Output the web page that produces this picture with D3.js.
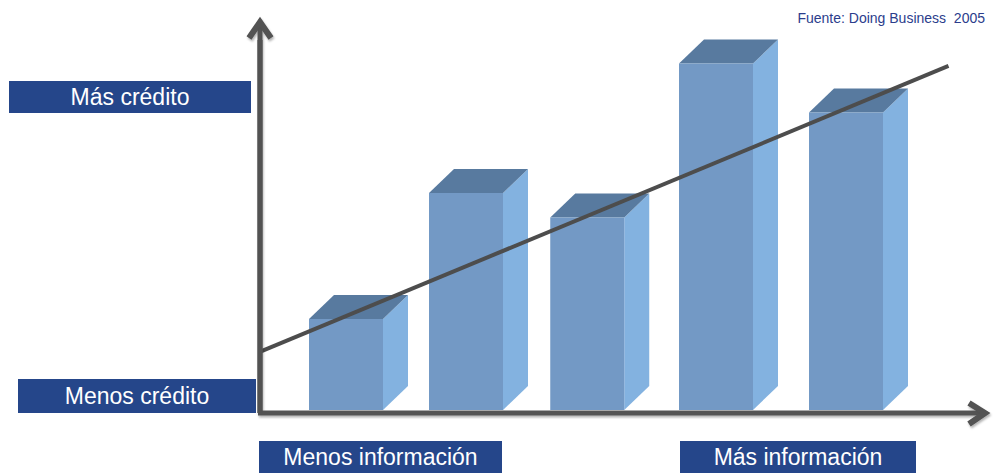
<!DOCTYPE html>
<html>
<head>
<meta charset="utf-8">
<script src="https://cdn.jsdelivr.net/npm/d3@7"></script>
<style>
  html, body { margin: 0; padding: 0; background: #ffffff; }
  svg { display: block; }
</style>
</head>
<body>
<svg id="chart" width="998" height="473"></svg>
<script>
// ---- data ----
const categories = ["A", "B", "C", "D", "E"];
const infoLevel = [0, 0.96, 1.93, 2.96, 4.0];
const creditValues = [26, 62, 55, 99, 85];
const trendX = [-0.69, 4.82];
const trendY = [16.6, 98.3];
const yLabels = ["Más crédito", "Menos crédito"];
const xLabels = ["Menos información", "Más información"];
const sourceText = "Fuente: Doing Business  2005";

// ---- layout ----
const svg = d3.select("#chart");
const baseY = 410;
const xi = d3.scaleLinear().domain([0, 4]).range([346, 846]);
const y = d3.scaleLinear().domain([0, 100]).range([baseY, 60]);
const barW = 74, dx = 25, dy = -24;

const cFront = "#7399c5", cSide = "#83b2e0", cTop = "#587a9f";
const axisColor = "#525252";
const boxColor = "#25468a";

const defs = svg.append("defs");
const f = defs.append("filter").attr("id", "sh").attr("x", "-5%").attr("y", "-5%").attr("width", "110%").attr("height", "120%");
f.append("feDropShadow").attr("dx", 1).attr("dy", 2).attr("stdDeviation", 1.2).attr("flood-color", "#000").attr("flood-opacity", 0.3);

// bars
const bars = svg.append("g");
categories.forEach((c, i) => {
  const cx = xi(infoLevel[i]);
  const x0 = cx - barW / 2, x1 = cx + barW / 2;
  const yt = y(creditValues[i]), yb = y(0);
  const g = bars.append("g");
  g.append("path")
    .attr("d", `M${x1},${yb} L${x1},${yt} L${x1 + dx},${yt + dy} L${x1 + dx},${yb + dy} Z`)
    .attr("fill", cSide);
  g.append("path")
    .attr("d", `M${x0},${yt} L${x0 + dx},${yt + dy} L${x1 + dx},${yt + dy} L${x1},${yt} Z`)
    .attr("fill", cTop);
  g.append("rect")
    .attr("x", x0).attr("y", yt).attr("width", barW).attr("height", yb - yt)
    .attr("fill", cFront);
});

// trend line
svg.append("line")
  .attr("x1", xi(trendX[0])).attr("y1", y(trendY[0]))
  .attr("x2", xi(trendX[1])).attr("y2", y(trendY[1]))
  .attr("stroke", "#4d4d4d").attr("stroke-width", 4);

// axes
const axes = svg.append("g").attr("filter", "url(#sh)")
  .attr("stroke", axisColor).attr("stroke-width", 5).attr("fill", "none");
axes.append("path").attr("d", "M260,413 L260,24");
axes.append("path").attr("d", "M258,413 L984,413");
axes.append("polyline").attr("points", "249,38 260,22 271,38")
  .attr("stroke-width", 6).attr("stroke-linejoin", "miter");
axes.append("polyline").attr("points", "969,403 985,413 969,424")
  .attr("stroke-width", 6).attr("stroke-linejoin", "miter");

// label boxes
const boxes = [
  { t: yLabels[0], x: 9, y: 81, w: 242, h: 32 },
  { t: yLabels[1], x: 18, y: 379, w: 238, h: 34 },
  { t: xLabels[0], x: 259, y: 441, w: 243, h: 32 },
  { t: xLabels[1], x: 680, y: 441, w: 236, h: 32 }
];
const lb = svg.append("g");
boxes.forEach(b => {
  lb.append("rect").attr("x", b.x).attr("y", b.y).attr("width", b.w).attr("height", b.h).attr("fill", boxColor);
});
boxes.forEach(b => {
  lb.append("text")
    .attr("x", b.x + b.w / 2).attr("y", b.y + b.h / 2 + 8)
    .attr("text-anchor", "middle")
    .attr("font-family", "Liberation Sans, Arial, sans-serif")
    .attr("font-size", 23).attr("fill", "#ffffff")
    .text(b.t);
});
// re-draw y axis over the boxes' right edge
svg.append("path").attr("d", "M260,413 L260,40").attr("stroke", axisColor).attr("stroke-width", 5);

// source
svg.append("text")
  .attr("x", 985).attr("y", 23).attr("text-anchor", "end")
  .attr("font-family", "Liberation Sans, Arial, sans-serif")
  .attr("font-size", 14).attr("fill", "#2b3d8c")
  .style("white-space", "pre")
  .text(sourceText);
</script>
</body>
</html>
